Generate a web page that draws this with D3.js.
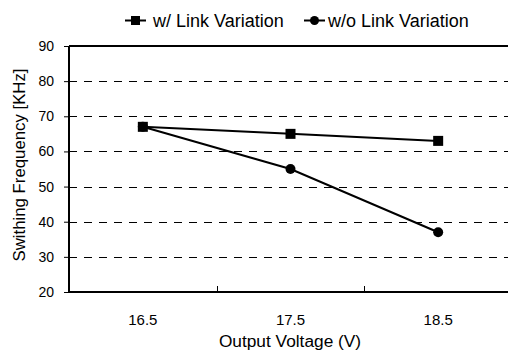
<!DOCTYPE html>
<html>
<head>
<meta charset="utf-8">
<script src="https://cdn.jsdelivr.net/npm/d3@7"></script>
<style>
  html, body { margin: 0; padding: 0; background: #fff; }
  svg { display: block; font-family: "Liberation Sans", Arial, sans-serif; }
</style>
</head>
<body>
<svg id="chart" width="508" height="353"></svg>
<script>
// Output voltage categories and switching frequency (kHz) per series
const voltages = ["16.5", "17.5", "18.5"];
const withLinkVariation = [67, 65, 63];
const withoutLinkVariation = [67, 55, 37];
const yTicks = [20, 30, 40, 50, 60, 70, 80, 90];
const seriesNames = ["w/ Link Variation", "w/o Link Variation"];

const svg = d3.select("#chart");
const plotLeft = 69, plotRight = 512, plotTop = 46, plotBottom = 292;

const x = d3.scaleBand().domain(voltages).range([plotLeft, plotRight]);
const y = d3.scaleLinear().domain([20, 90]).range([plotBottom, plotTop]);

// dashed horizontal gridlines
svg.append("g")
  .selectAll("line")
  .data(yTicks.filter(t => t > 20 && t < 90))
  .join("line")
  .attr("x1", plotLeft).attr("x2", plotRight)
  .attr("y1", d => Math.round(y(d)) + 0.5).attr("y2", d => Math.round(y(d)) + 0.5)
  .attr("stroke", "#000").attr("stroke-width", 1)
  .attr("stroke-dasharray", "8,7");

// top border of plot area
svg.append("line")
  .attr("x1", plotLeft).attr("x2", plotRight)
  .attr("y1", plotTop).attr("y2", plotTop)
  .attr("stroke", "#000").attr("stroke-width", 2);

// y axis
const yAxis = svg.append("g")
  .attr("transform", `translate(${plotLeft},0)`)
  .call(d3.axisLeft(y).tickValues(yTicks).tickSize(5).tickPadding(10).tickFormat(d3.format("d")));
yAxis.select(".domain").attr("stroke-width", 2).attr("d", `M0,${plotTop}V${plotBottom}`);
yAxis.selectAll(".tick line").attr("stroke-width", 1);
yAxis.selectAll(".tick text")
  .attr("font-size", 14).attr("font-family", "Liberation Sans, Arial, sans-serif").attr("fill", "#000");

// x axis with inward ticks at category boundaries
const xAxis = svg.append("g")
  .attr("transform", `translate(0,${plotBottom})`)
  .call(d3.axisBottom(x).tickSize(0).tickPadding(22));
xAxis.select(".domain").attr("stroke-width", 2).attr("d", `M${plotLeft},0H${plotRight}`);
xAxis.selectAll(".tick text")
  .attr("font-size", 15).attr("font-family", "Liberation Sans, Arial, sans-serif").attr("fill", "#000");
xAxis.selectAll(".boundary")
  .data(voltages.slice(1))
  .join("line")
  .attr("class", "boundary")
  .attr("x1", d => Math.round(x(d)) + 0.5).attr("x2", d => Math.round(x(d)) + 0.5)
  .attr("y1", 0).attr("y2", -6)
  .attr("stroke", "#000").attr("stroke-width", 1);

// axis titles
svg.append("text")
  .attr("x", 290).attr("y", 347)
  .attr("text-anchor", "middle").attr("font-size", 17.3)
  .text("Output Voltage (V)");
svg.append("text")
  .attr("transform", `translate(25,${(plotTop + plotBottom) / 2 - 4}) rotate(-90)`)
  .attr("text-anchor", "middle").attr("font-size", 16.8)
  .text("Swithing Frequency [KHz]");

const cx = d => x(d) + x.bandwidth() / 2;
const line = d3.line().x((d, i) => cx(voltages[i])).y(d => y(d));

// series without link variation (circles)
svg.append("path").datum(withoutLinkVariation)
  .attr("d", line).attr("fill", "none").attr("stroke", "#000").attr("stroke-width", 2);
svg.append("g").selectAll("circle").data(withoutLinkVariation).join("circle")
  .attr("cx", (d, i) => cx(voltages[i])).attr("cy", d => y(d)).attr("r", 5).attr("fill", "#000");

// series with link variation (squares)
svg.append("path").datum(withLinkVariation)
  .attr("d", line).attr("fill", "none").attr("stroke", "#000").attr("stroke-width", 2);
svg.append("g").selectAll("rect").data(withLinkVariation).join("rect")
  .attr("x", (d, i) => cx(voltages[i]) - 5).attr("y", d => y(d) - 5)
  .attr("width", 10).attr("height", 10).attr("fill", "#000");

// legend
const legend = svg.append("g").attr("font-size", 18);
const legendX = [125, 304];
const legendTextX = [153, 328];
seriesNames.forEach((name, i) => {
  const g = legend.append("g").attr("transform", `translate(${legendX[i]},0)`);
  g.append("line").attr("x1", 0).attr("x2", 21).attr("y1", 20.5).attr("y2", 20.5)
    .attr("stroke", "#000").attr("stroke-width", 2);
  if (i === 0) {
    g.append("rect").attr("x", 6).attr("y", 16).attr("width", 9).attr("height", 9).attr("fill", "#000");
  } else {
    g.append("circle").attr("cx", 10.5).attr("cy", 20.5).attr("r", 4.5).attr("fill", "#000");
  }
  legend.append("text").attr("x", legendTextX[i]).attr("y", 27).text(name);
});
</script>
</body>
</html>
